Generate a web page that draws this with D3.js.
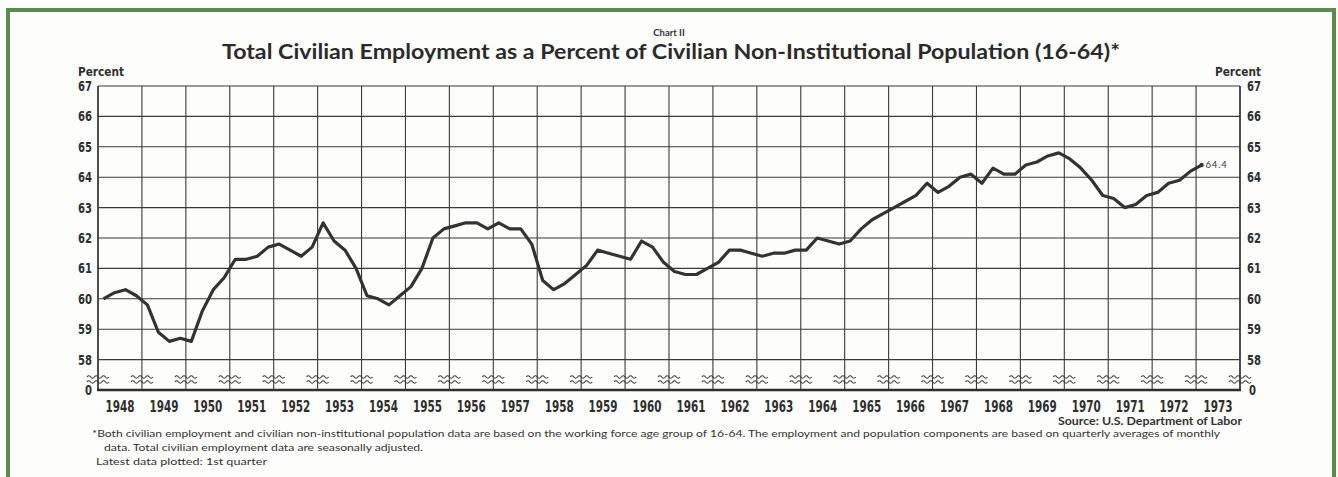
<!DOCTYPE html>
<html>
<head>
<meta charset="utf-8">
<script src="https://cdn.jsdelivr.net/npm/d3@7"></script>
<style>
    html, body { margin: 0; padding: 0; background: #fdfdfb; }
    svg { display: block; }
    .narrow { font-family: "DejaVu Sans", sans-serif; font-weight: bold; fill: #2e2e2e; }
    .note { font-family: "Lato", "Noto Sans", sans-serif; fill: #333; }
</style>
</head>
<body>
<div class="container"></div>
<script>
const width = 1338,
    height = 477;

// quarterly values, 1948 Q1 .. 1973 Q1 (percent)
const startYear = 1948;
const employment = [
    60.0, 60.2, 60.3, 60.1,
    59.8, 58.9, 58.6, 58.7,
    58.6, 59.6, 60.3, 60.7,
    61.3, 61.3, 61.4, 61.7,
    61.8, 61.6, 61.4, 61.7,
    62.5, 61.9, 61.6, 61.0,
    60.1, 60.0, 59.8, 60.1,
    60.4, 61.0, 62.0, 62.3,
    62.4, 62.5, 62.5, 62.3,
    62.5, 62.3, 62.3, 61.8,
    60.6, 60.3, 60.5, 60.8,
    61.1, 61.6, 61.5, 61.4,
    61.3, 61.9, 61.7, 61.2,
    60.9, 60.8, 60.8, 61.0,
    61.2, 61.6, 61.6, 61.5,
    61.4, 61.5, 61.5, 61.6,
    61.6, 62.0, 61.9, 61.8,
    61.9, 62.3, 62.6, 62.8,
    63.0, 63.2, 63.4, 63.8,
    63.5, 63.7, 64.0, 64.1,
    63.8, 64.3, 64.1, 64.1,
    64.4, 64.5, 64.7, 64.8,
    64.6, 64.3, 63.9, 63.4,
    63.3, 63.0, 63.1, 63.4,
    63.5, 63.8, 63.9, 64.2,
    64.4
];
const years = d3.range(1948, 1974);
const yTicks = [58, 59, 60, 61, 62, 63, 64, 65, 66, 67];
const lastLabel = '64.4';

const title = 'Total Civilian Employment as a Percent of Civilian Non-Institutional Population (16-64)*';
const footnotes = [
    '*Both civilian employment and civilian non-institutional population data are based on the working force age group of 16-64. The employment and population components are based on quarterly averages of monthly',
    'data. Total civilian employment data are seasonally adjusted.',
    'Latest data plotted: 1st quarter'
];

const plotLeft = 98, plotRight = 1240, plotTop = 86, plotBottom = 359.6, zeroY = 390;

const x = d3.scaleLinear().domain([1948, 1974]).range([plotLeft, plotRight]);
const y = d3.scaleLinear().domain([58, 67]).range([plotBottom, plotTop]);

const svg = d3.select('.container')
    .append('svg')
    .attr('width', width)
    .attr('height', height);

// green frame, open at the bottom
svg.append('path')
    .attr('d', `M8,${height + 5} V10 H1334 V${height + 5}`)
    .attr('fill', 'none')
    .attr('stroke', '#5b8c4c')
    .attr('stroke-width', 4);

svg.append('text')
    .attr('x', 669)
    .attr('y', 36)
    .attr('text-anchor', 'middle')
    .attr('class', 'note')
    .style('font-size', '9.5px')
    .style('font-weight', 'bold')
    .text('Chart II');

svg.append('text')
    .attr('x', 222)
    .attr('y', 59)
    .attr('textLength', 898)
    .attr('lengthAdjust', 'spacingAndGlyphs')
    .style('font-family', '"Lato", "Noto Sans", sans-serif')
    .style('font-weight', 'bold')
    .style('font-size', '21px')
    .style('fill', '#2b2b2b')
    .text(title);

const grid = svg.append('g')
    .attr('stroke', '#3a3a3a')
    .attr('stroke-width', 1.1);

// horizontal grid 58..67
grid.selectAll('.h')
    .data(yTicks)
    .enter()
    .append('line')
    .attr('x1', plotLeft)
    .attr('x2', plotRight)
    .attr('y1', d => y(d))
    .attr('y2', d => y(d));

// vertical grid at year boundaries, down to the zero line
grid.selectAll('.v')
    .data(d3.range(1948, 1975))
    .enter()
    .append('line')
    .attr('x1', d => x(d))
    .attr('x2', d => x(d))
    .attr('y1', plotTop)
    .attr('y2', zeroY)
    .attr('stroke-width', d => (d === 1948 || d === 1974) ? 1.8 : 1.1);

// zero line
svg.append('line')
    .attr('x1', plotLeft - 1)
    .attr('x2', plotRight + 1)
    .attr('y1', zeroY)
    .attr('y2', zeroY)
    .attr('stroke', '#2e2e2e')
    .attr('stroke-width', 2.5);

// scale break marks
const wave = (cx, cy) => {
    let p = `M${cx - 11},${cy}`;
    for (let i = 0; i < 3; i++) {
        p += ` q1.83,-2.4 3.67,0 q1.83,2.4 3.67,0`;
    }
    return p;
};
const breaks = svg.append('g')
    .attr('fill', 'none')
    .attr('stroke', '#3a3a3a')
    .attr('stroke-width', 1.1);
d3.range(1948, 1975).forEach(d => {
    breaks.append('path').attr('d', wave(x(d), 377));
    breaks.append('path').attr('d', wave(x(d), 382));
});

// data line
const line = d3.line()
    .x((d, i) => x(startYear + (i + 0.5) / 4))
    .y(d => y(d));

svg.append('path')
    .datum(employment)
    .attr('d', line)
    .attr('fill', 'none')
    .attr('stroke', '#333')
    .attr('stroke-width', 3.2)
    .attr('stroke-linejoin', 'round');

const lastIndex = employment.length - 1;
const lastX = x(startYear + (lastIndex + 0.5) / 4);
svg.append('circle')
    .attr('cx', lastX)
    .attr('cy', y(employment[lastIndex]))
    .attr('r', 2.2)
    .attr('fill', '#333');

svg.append('text')
    .attr('x', lastX + 4)
    .attr('y', y(employment[lastIndex]) + 3)
    .attr('class', 'note')
    .style('font-size', '9.5px')
    .style('letter-spacing', '0.8px')
    .text(lastLabel);

// axis labels, squeezed to a condensed width
const axisLabels = svg.append('g').attr('class', 'narrow').style('font-size', '13.5px');

axisLabels.selectAll('.yl')
    .data(yTicks)
    .enter()
    .append('text')
    .attr('x', plotLeft - 6 - 14)
    .attr('y', d => y(d) + 5)
    .attr('textLength', 14)
    .attr('lengthAdjust', 'spacingAndGlyphs')
    .text(d => d);

axisLabels.selectAll('.yr')
    .data(yTicks)
    .enter()
    .append('text')
    .attr('x', plotRight + 7)
    .attr('y', d => y(d) + 5)
    .attr('textLength', 14)
    .attr('lengthAdjust', 'spacingAndGlyphs')
    .text(d => d);

axisLabels.append('text').attr('x', plotLeft - 13).attr('y', zeroY + 5)
    .attr('textLength', 7).attr('lengthAdjust', 'spacingAndGlyphs').text('0');
axisLabels.append('text').attr('x', plotRight + 9).attr('y', zeroY + 5)
    .attr('textLength', 7).attr('lengthAdjust', 'spacingAndGlyphs').text('0');

svg.append('text')
    .attr('x', 78)
    .attr('y', 76)
    .attr('textLength', 46)
    .attr('lengthAdjust', 'spacingAndGlyphs')
    .attr('class', 'narrow')
    .style('font-size', '11.5px')
    .text('Percent');

svg.append('text')
    .attr('x', 1215)
    .attr('y', 76)
    .attr('textLength', 46)
    .attr('lengthAdjust', 'spacingAndGlyphs')
    .attr('class', 'narrow')
    .style('font-size', '11.5px')
    .text('Percent');

svg.append('g')
    .attr('class', 'narrow')
    .style('font-size', '15px')
    .selectAll('text')
    .data(years)
    .enter()
    .append('text')
    .attr('x', d => x(d + 0.5) - 14.5)
    .attr('y', 412)
    .attr('textLength', 29)
    .attr('lengthAdjust', 'spacingAndGlyphs')
    .text(d => d);

svg.append('text')
    .attr('x', 1058)
    .attr('y', 425)
    .attr('textLength', 184)
    .attr('lengthAdjust', 'spacingAndGlyphs')
    .attr('class', 'note')
    .style('font-size', '11px')
    .style('font-weight', 'bold')
    .text('Source: U.S. Department of Labor');

svg.append('text')
    .attr('x', 92)
    .attr('y', 437)
    .attr('textLength', 1128)
    .attr('lengthAdjust', 'spacingAndGlyphs')
    .attr('class', 'note')
    .style('font-size', '9.5px')
    .text(footnotes[0]);

svg.append('text')
    .attr('x', 104)
    .attr('y', 451)
    .attr('textLength', 319)
    .attr('lengthAdjust', 'spacingAndGlyphs')
    .attr('class', 'note')
    .style('font-size', '9.5px')
    .text(footnotes[1]);

svg.append('text')
    .attr('x', 96)
    .attr('y', 465)
    .attr('textLength', 171)
    .attr('lengthAdjust', 'spacingAndGlyphs')
    .attr('class', 'note')
    .style('font-size', '9.5px')
    .text(footnotes[2]);
</script>
</body>
</html>
